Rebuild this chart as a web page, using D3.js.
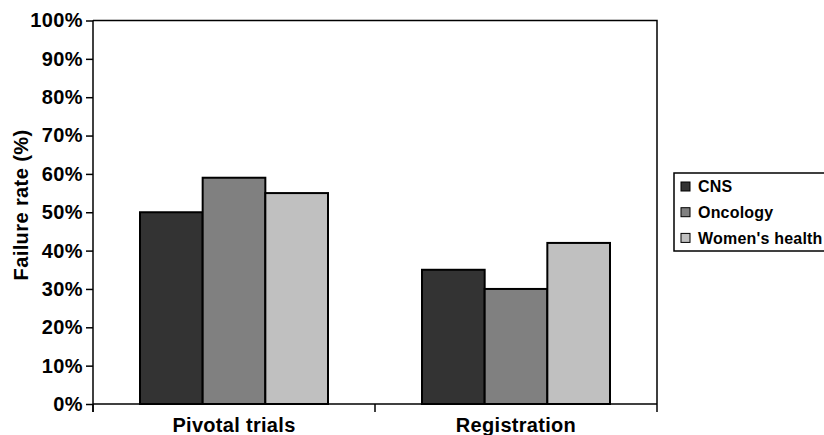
<!DOCTYPE html>
<html>
<head>
<meta charset="utf-8">
<script src="https://cdn.jsdelivr.net/npm/d3@7"></script>
<style>
  html, body { margin: 0; padding: 0; background: #fff; }
  svg { display: block; font-family: "Liberation Sans", Arial, Helvetica, sans-serif; }
</style>
</head>
<body>
<svg id="chart" width="824" height="435"></svg>
<script>
// Failure rates by development stage and therapeutic area
const stages = ["Pivotal trials", "Registration"];
const areas = ["CNS", "Oncology", "Women's health"];
const cns = [0.50, 0.35];
const oncology = [0.59, 0.30];
const womensHealth = [0.55, 0.42];
const yTicks = [0, 0.1, 0.2, 0.3, 0.4, 0.5, 0.6, 0.7, 0.8, 0.9, 1.0];
const fills = ["#333333", "#808080", "#c0c0c0"];

const seriesValues = [cns, oncology, womensHealth];

const svg = d3.select("#chart");
const plot = { left: 93, right: 657, top: 20.5, bottom: 404 };

const y = d3.scaleLinear().domain([0, 1]).range([plot.bottom, plot.top]);
const x0 = d3.scaleBand().domain(stages).range([plot.left, plot.right]).padding(0);
const x1 = d3.scaleBand().domain(areas).range([0, x0.bandwidth()])
  .paddingInner(0).paddingOuter(0.75);
const color = d3.scaleOrdinal().domain(areas).range(fills);

// Plot frame: top and right edges
svg.append("path")
  .attr("d", `M${plot.left},${plot.top}H${plot.right}V${plot.bottom}`)
  .attr("fill", "none").attr("stroke", "#000").attr("stroke-width", 1.5);

// Bars
const groups = svg.selectAll("g.stage").data(stages).join("g")
  .attr("class", "stage")
  .attr("transform", d => `translate(${x0(d)},0)`);

groups.selectAll("rect")
  .data((stage, i) => areas.map((a, j) => ({ area: a, value: seriesValues[j][i] })))
  .join("rect")
  .attr("x", d => x1(d.area))
  .attr("y", d => y(d.value))
  .attr("width", x1.bandwidth())
  .attr("height", d => y(0) - y(d.value))
  .attr("fill", d => color(d.area))
  .attr("stroke", "#000")
  .attr("stroke-width", 2);

// Y axis
const yAxis = svg.append("g")
  .attr("transform", `translate(${plot.left},0)`)
  .call(d3.axisLeft(y).tickValues(yTicks).tickFormat(d3.format(".0%"))
    .tickSize(7).tickPadding(3));
yAxis.select(".domain").attr("stroke", "#000").attr("stroke-width", 1.5)
  .attr("d", `M0,${plot.top}V${plot.bottom + 8}`);
yAxis.selectAll(".tick line").attr("stroke", "#000").attr("stroke-width", 1.5);
yAxis.selectAll(".tick text")
  .attr("fill", "#000")
  .style("font-size", "20px").style("font-weight", "bold")
  .style("letter-spacing", "0.4px");

// X axis line with ticks at category boundaries
svg.append("line")
  .attr("x1", plot.left).attr("x2", plot.right)
  .attr("y1", y(0)).attr("y2", y(0))
  .attr("stroke", "#000").attr("stroke-width", 1.5);
const boundaries = stages.map(s => x0(s)).concat([x0(stages[stages.length - 1]) + x0.bandwidth()]);
svg.selectAll("line.xtick").data(boundaries).join("line")
  .attr("class", "xtick")
  .attr("x1", d => d).attr("x2", d => d)
  .attr("y1", y(0)).attr("y2", y(0) + 8)
  .attr("stroke", "#000").attr("stroke-width", 1.5);

svg.selectAll("text.xlabel").data(stages).join("text")
  .attr("class", "xlabel")
  .attr("x", d => x0(d) + x0.bandwidth() / 2)
  .attr("y", 432)
  .attr("text-anchor", "middle")
  .style("font-size", "20px").style("font-weight", "bold")
  .style("letter-spacing", "0.3px")
  .text(d => d);

// Y axis title
svg.append("text")
  .attr("transform", "translate(27.5,205) rotate(-90)")
  .attr("text-anchor", "middle")
  .style("font-size", "20px").style("font-weight", "bold")
  .style("letter-spacing", "0.4px")
  .text("Failure rate (%)");

// Legend
const legend = svg.append("g").attr("transform", "translate(674,173)");
legend.append("rect")
  .attr("x", 0).attr("y", 0).attr("width", 160).attr("height", 78)
  .attr("fill", "#fff").attr("stroke", "#000").attr("stroke-width", 1.5);
const items = legend.selectAll("g.item").data(areas).join("g")
  .attr("class", "item")
  .attr("transform", (d, i) => `translate(0,${13.5 + i * 25.7})`);
items.append("rect")
  .attr("x", 7).attr("y", -4.5).attr("width", 9).attr("height", 9)
  .attr("fill", d => color(d)).attr("stroke", "#000").attr("stroke-width", 1);
items.append("text")
  .attr("x", 24).attr("y", 0).attr("dy", "0.35em")
  .style("font-size", "16px").style("font-weight", "bold")
  .style("letter-spacing", "0.2px")
  .text(d => d);
</script>
</body>
</html>
